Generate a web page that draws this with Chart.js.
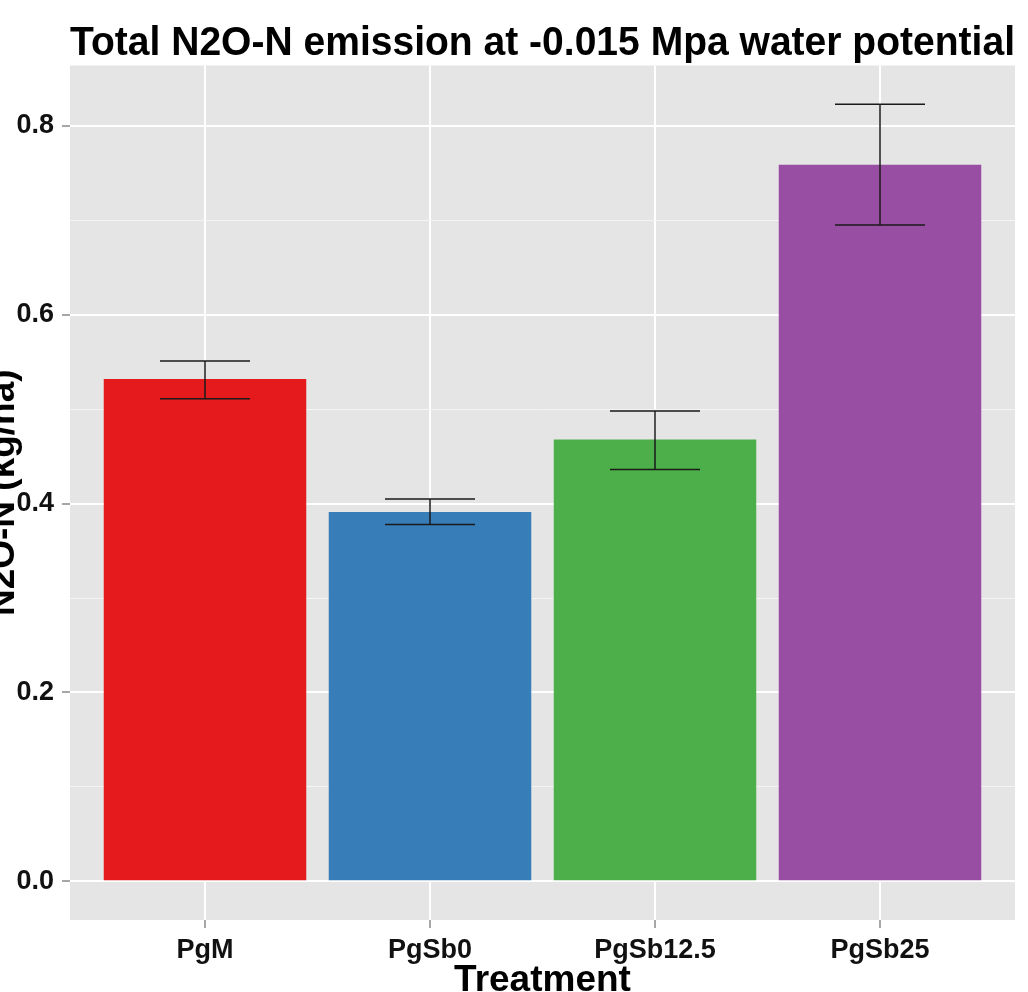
<!DOCTYPE html>
<html>
<head>
<meta charset="utf-8">
<script src="https://cdn.jsdelivr.net/npm/chart.js@4"></script>
<style>
  body { margin: 0; background: #fff; }
</style>
</head>
<body>
<canvas id="myChart" width="1028" height="992"></canvas>
<script>
const ctx = document.getElementById('myChart');

// data
const treatments = ['PgM', 'PgSb0', 'PgSb12.5', 'PgSb25'];
const n2o = [0.532, 0.391, 0.468, 0.759];
const errLow = [0.511, 0.378, 0.436, 0.695];
const errHigh = [0.551, 0.405, 0.498, 0.823];
const barColors = ['#E41A1C', '#377EB8', '#4DAF4A', '#984EA3'];
const yMajor = [0, 0.2, 0.4, 0.6, 0.8];
const yMinor = [0.1, 0.3, 0.5, 0.7];

const FONT = '"Liberation Sans", Arial, sans-serif';
const isMajor = v => yMajor.some(m => Math.abs(m - v) < 1e-6);

// grey panel like ggplot
const panelBg = {
  id: 'panelBg',
  beforeDraw(chart) {
    const a = chart.chartArea;
    const c = chart.ctx;
    c.save();
    c.fillStyle = '#E5E5E5';
    c.fillRect(a.left, a.top, a.right - a.left, a.bottom - a.top);
    c.restore();
  }
};

// error bars from errLow / errHigh
const errorBars = {
  id: 'errorBars',
  afterDatasetsDraw(chart) {
    const x = chart.scales.x, y = chart.scales.y;
    const c = chart.ctx;
    c.save();
    c.strokeStyle = '#1a1a1a';
    c.lineWidth = 1.5;
    treatments.forEach((t, i) => {
      const cx = x.getPixelForValue(i + 1);
      const l = x.getPixelForValue(i + 0.8), r = x.getPixelForValue(i + 1.2);
      const lo = y.getPixelForValue(errLow[i]), hi = y.getPixelForValue(errHigh[i]);
      c.beginPath();
      c.moveTo(l, hi); c.lineTo(r, hi);
      c.moveTo(l, lo); c.lineTo(r, lo);
      c.moveTo(cx, hi); c.lineTo(cx, lo);
      c.stroke();
    });
    c.restore();
  }
};

new Chart(ctx, {
  type: 'bar',
  data: {
    datasets: [{
      data: n2o.map((v, i) => ({ x: i + 1, y: v })),
      backgroundColor: barColors,
      borderWidth: 0,
      barPercentage: 0.9,
      categoryPercentage: 1.0
    }]
  },
  options: {
    responsive: false,
    animation: false,
    devicePixelRatio: 1,
    layout: { padding: { left: 0, right: 13, top: 0, bottom: 0 } },
    plugins: {
      legend: { display: false },
      tooltip: { enabled: false },
      title: {
        display: true,
        text: 'Total N2O-N emission at -0.015 Mpa water potential',
        fullSize: false,
        color: '#000',
        font: { family: FONT, size: 40.5, weight: 'bold', lineHeight: 1 },
        padding: { top: 24, bottom: 1 }
      }
    },
    scales: {
      x: {
        type: 'linear',
        min: 0.4,
        max: 4.6,
        offset: false,
        afterBuildTicks: s => { s.ticks = treatments.map((t, i) => ({ value: i + 1 })); },
        afterFit: s => { s.height = 72; },
        ticks: {
          callback: v => treatments[Math.round(v) - 1],
          color: '#111',
          font: { family: FONT, size: 27, weight: 'bold' },
          padding: 6,
          autoSkip: false,
          maxRotation: 0
        },
        grid: {
          offset: false,
          color: '#FFFFFF',
          lineWidth: 2,
          tickColor: '#8a8a8a',
          tickLength: 8,
          tickWidth: 1.5
        },
        border: { display: false },
        title: {
          display: true,
          text: 'Treatment',
          color: '#000',
          font: { family: FONT, size: 37, weight: 'bold', lineHeight: 1 },
          padding: { top: 0, bottom: -7 }
        }
      },
      y: {
        min: -0.041,
        max: 0.864,
        afterBuildTicks: s => {
          s.ticks = yMajor.concat(yMinor).sort((a, b) => a - b).map(v => ({ value: v }));
        },
        afterFit: s => { s.width = 70; },
        ticks: {
          callback: v => isMajor(v) ? v.toFixed(1) : '',
          color: '#111',
          font: { family: FONT, size: 27, weight: 'bold' },
          padding: 8,
          autoSkip: false
        },
        grid: {
          color: c => isMajor(c.tick.value) ? '#FFFFFF' : '#F4F4F4',
          lineWidth: c => isMajor(c.tick.value) ? 2 : 1,
          tickColor: c => isMajor(c.tick.value) ? '#8a8a8a' : 'rgba(0,0,0,0)',
          tickLength: 8,
          tickWidth: 1.5
        },
        border: { display: false },
        title: {
          display: true,
          text: 'N2O-N (kg/ha)',
          color: '#000',
          font: { family: FONT, size: 37, weight: 'bold', lineHeight: 1 },
          padding: { top: -14.5, bottom: 0 }
        }
      }
    }
  },
  plugins: [panelBg, errorBars]
});
</script>
</body>
</html>
